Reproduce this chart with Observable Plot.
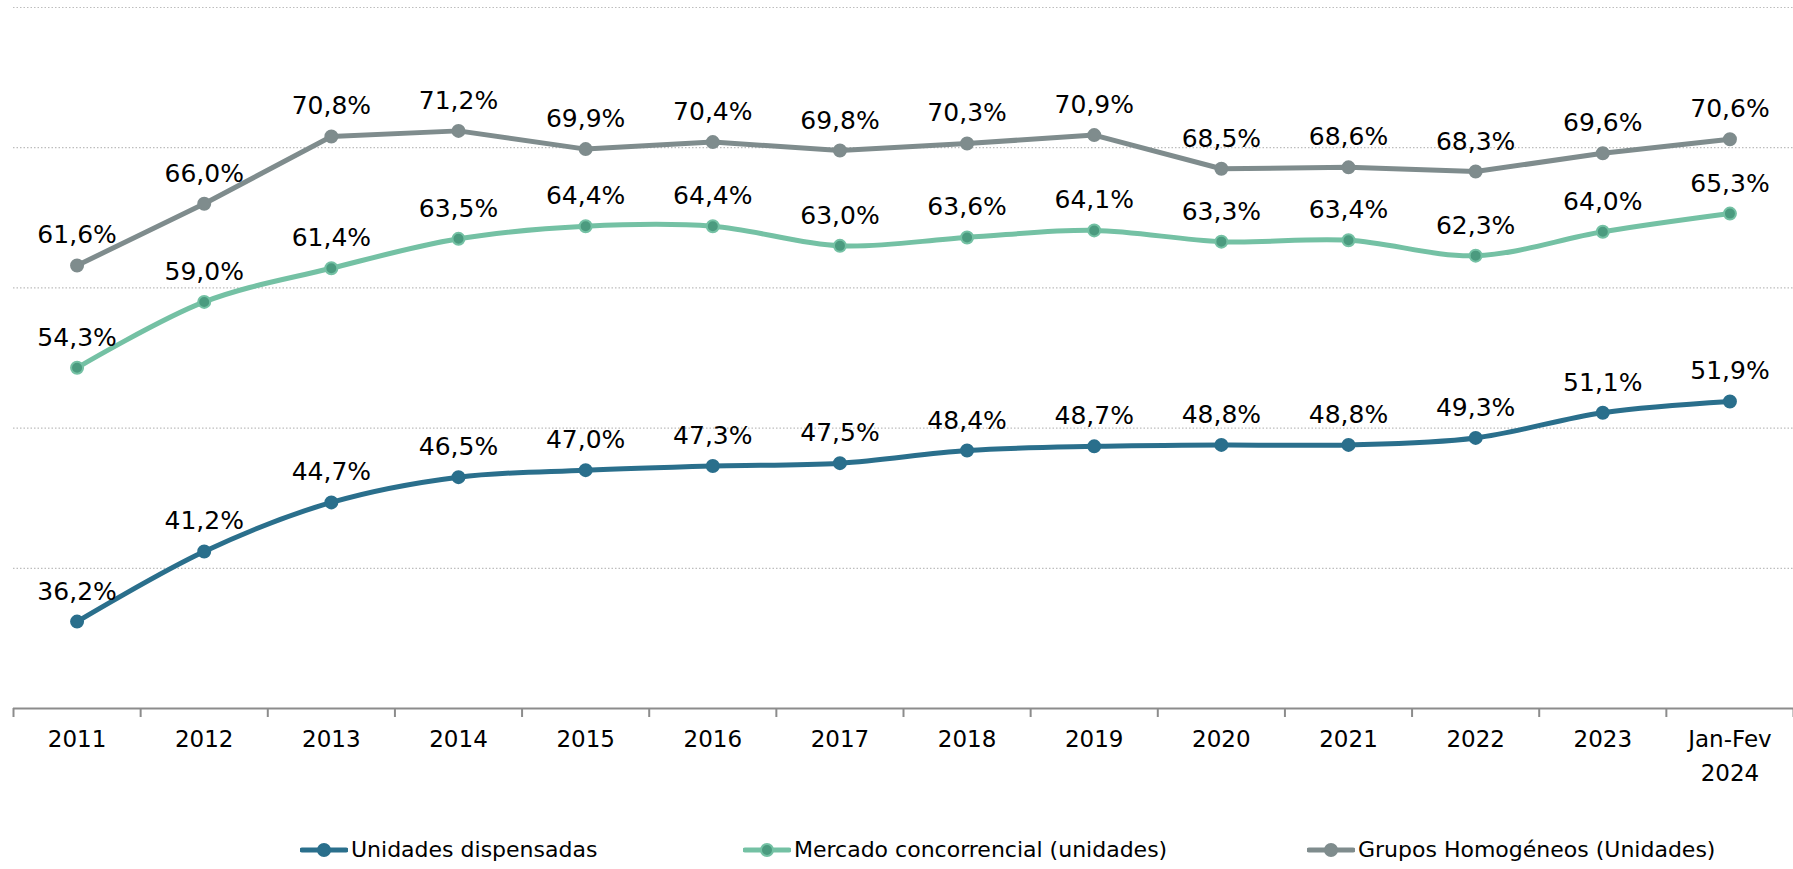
<!DOCTYPE html>
<html>
<head>
<meta charset="utf-8">
<script src="https://cdn.jsdelivr.net/npm/d3@7"></script>
<script src="https://cdn.jsdelivr.net/npm/@observablehq/plot@0.6"></script>
<style>
  html, body { margin: 0; padding: 0; background: #fff; }
  #chart svg { display: block; }
  #legend { position: relative; height: 39px; font-family: "DejaVu Sans", sans-serif; font-size: 22px; color: #000; }
  .item { position: absolute; top: 0; height: 39px; display: flex; align-items: center; white-space: nowrap; }
  .item svg { margin-right: 3px; }
</style>
</head>
<body>
<div id="chart"></div>
<div id="legend"></div>
<script>
const years = ["2011","2012","2013","2014","2015","2016","2017","2018","2019","2020","2021","2022","2023","Jan-Fev\n2024"];
const unidades = [36.2,41.2,44.7,46.5,47.0,47.3,47.5,48.4,48.7,48.8,48.8,49.3,51.1,51.9];
const mercado  = [54.3,59.0,61.4,63.5,64.4,64.4,63.0,63.6,64.1,63.3,63.4,62.3,64.0,65.3];
const grupos   = [61.6,66.0,70.8,71.2,69.9,70.4,69.8,70.3,70.9,68.5,68.6,68.3,69.6,70.6];
const seriesNames = ["Unidades dispensadas","Mercado concorrencial (unidades)","Grupos Homogéneos (Unidades)"];
const yTicks = [40,50,60,70,80];

const series = [
  {name: seriesNames[2], values: grupos,   line: "#7f8c8d", dot: "#7f8c8d", dotStroke: "#7f8c8d", curve: "linear"},
  {name: seriesNames[1], values: mercado,  line: "#74c1a4", dot: "#4b9b7f", dotStroke: "#74c1a4", curve: "catmull-rom"},
  {name: seriesNames[0], values: unidades, line: "#2a6f8c", dot: "#2a6f8c", dotStroke: "#2a6f8c", curve: "catmull-rom"}
];

const fmt = v => v.toFixed(1).replace(".", ",") + "%";
const idx = years.map((_, i) => i);
const bounds = d3.range(-0.5, years.length, 1);
const FONT = "DejaVu Sans";

const marks = [
  Plot.ruleY(yTicks, {stroke: "#bdbdbd", strokeWidth: 1.2, strokeDasharray: "1.5,2"}),
  Plot.ruleY([30], {stroke: "#8c8c8c", strokeWidth: 2}),
  Plot.axisX({ticks: bounds, tickSize: 9, tickFormat: () => "", stroke: "#8c8c8c", strokeWidth: 2, label: null}),
  Plot.axisX({ticks: idx, tickSize: 0, tickPadding: 15, tickFormat: i => years[i], fontSize: 23, lineHeight: 1.45, fill: "#000", fontFamily: FONT, label: null})
];
for (const s of series) {
  const data = s.values.map((v, i) => ({i, v}));
  marks.push(Plot.line(data, {x: "i", y: "v", stroke: s.line, strokeWidth: 5, curve: s.curve}));
  marks.push(Plot.dot(data, {x: "i", y: "v", r: 6, fill: s.dot, stroke: s.dotStroke, strokeWidth: 2}));
}
for (const s of series) {
  const data = s.values.map((v, i) => ({i, v}));
  marks.push(Plot.text(data, {x: "i", y: "v", text: d => fmt(d.v), dy: -22, lineAnchor: "bottom", fontSize: 25, fill: "#000", fontFamily: FONT}));
}

const chart = Plot.plot({
  width: 1793,
  height: 830,
  marginTop: 7,
  marginBottom: 122,
  marginLeft: 13,
  marginRight: 0,
  style: {fontFamily: "'DejaVu Sans', sans-serif", background: "#fff"},
  x: {type: "linear", domain: [-0.5, years.length - 0.5], axis: null},
  y: {domain: [30, 80], axis: null},
  marks
});
document.getElementById("chart").appendChild(chart);

const legend = document.getElementById("legend");
const lefts = [300, 743, 1307];
[series[2], series[1], series[0]].forEach((s, k) => {
  const item = document.createElement("div");
  item.className = "item";
  item.style.left = lefts[k] + "px";
  item.innerHTML = `<svg width="48" height="16"><line x1="2" y1="8" x2="46" y2="8" stroke="${s.line}" stroke-width="5" stroke-linecap="round"/><circle cx="24" cy="8" r="6" fill="${s.dot}" stroke="${s.dotStroke}" stroke-width="2"/></svg><span>${s.name}</span>`;
  legend.appendChild(item);
});
</script>
</body>
</html>
